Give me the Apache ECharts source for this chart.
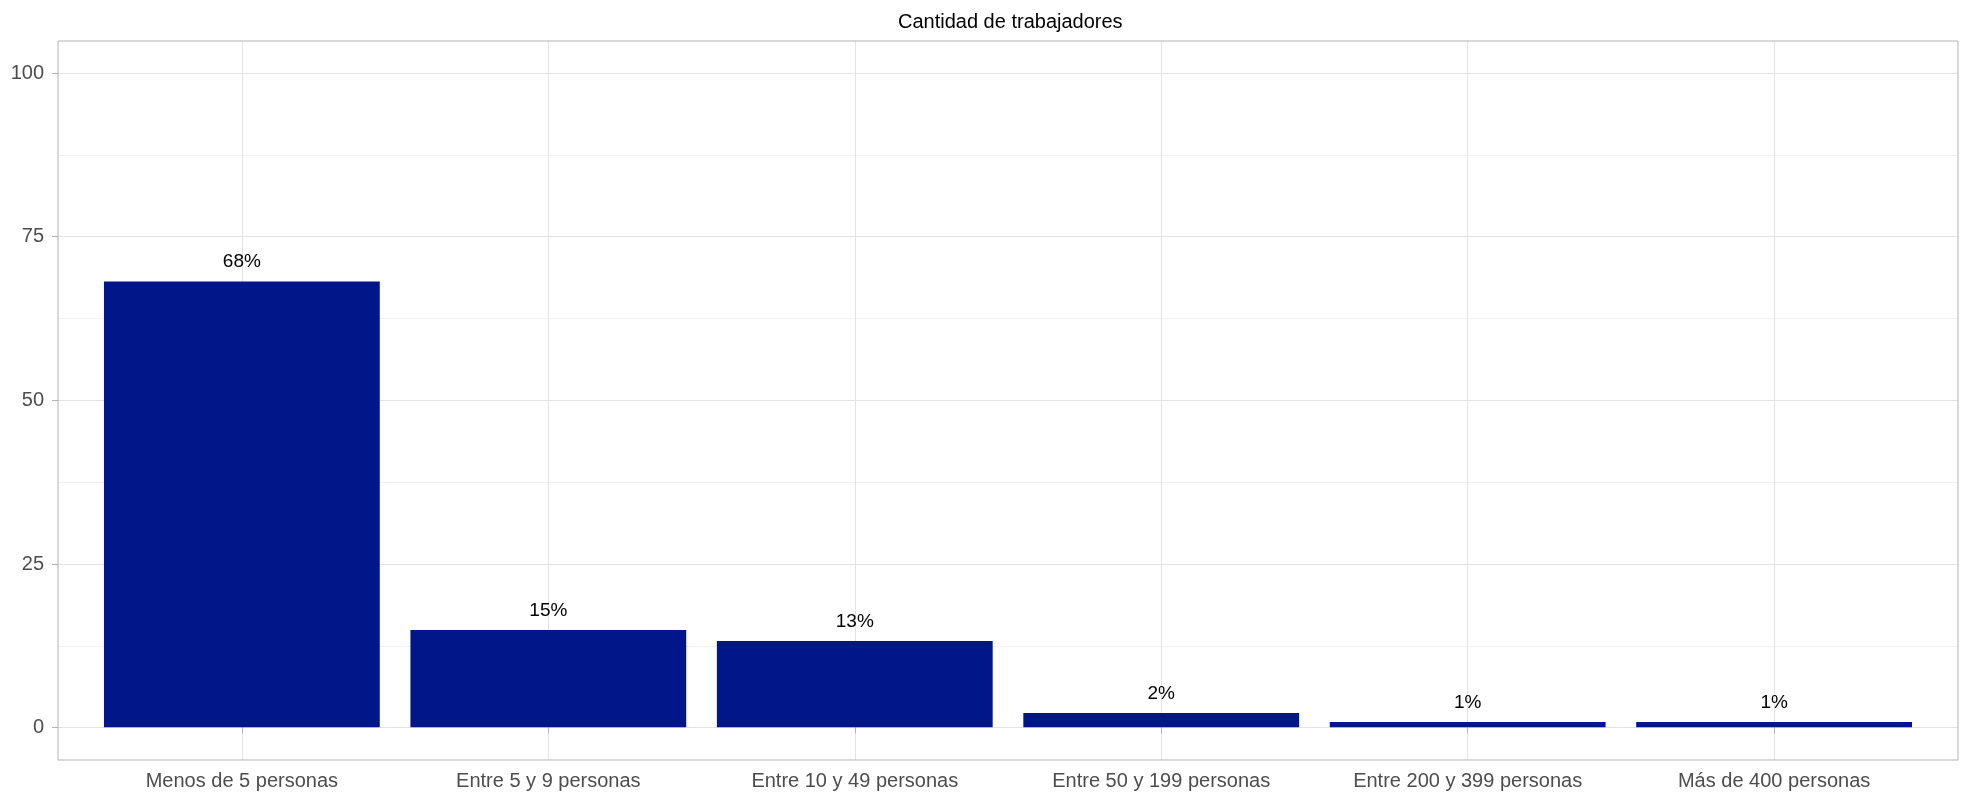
<!DOCTYPE html>
<html>
<head>
<meta charset="utf-8">
<script src="https://cdn.jsdelivr.net/npm/echarts@6/dist/echarts.min.js"></script>
<style>
html,body{margin:0;padding:0;background:#fff;}
#chart{width:1968px;height:794px;}
</style>
</head>
<body>
<div id="chart"></div>
<script>
const categories = ['Menos de 5 personas','Entre 5 y 9 personas','Entre 10 y 49 personas','Entre 50 y 199 personas','Entre 200 y 399 personas','Más de 400 personas'];
const values = [68.2, 14.9, 13.2, 2.2, 0.8, 0.8];
const valueLabels = ['68%','15%','13%','2%','1%','1%'];
const yTicks = [0, 25, 50, 75, 100];
const titleText = 'Cantidad de trabajadores';

const FONT = 'Liberation Sans, Arial, Helvetica, sans-serif';
const chart = echarts.init(document.getElementById('chart'), null, {renderer:'canvas'});

chart.setOption({
  animation: false,
  backgroundColor: '#ffffff',
  textStyle: {fontFamily: FONT},
  title: {
    text: titleText,
    left: 893, top: 7,
    textStyle: {fontFamily: FONT, fontSize: 20, fontWeight: 'normal', color: '#000'}
  },
  grid: [
    {left: 88.65, right: 40.65, top: 41, bottom: 34},
    {left: 58, right: 10, top: 73, bottom: 66.3},
    {left: 58, right: 10, top: 41, bottom: 34, show: true, borderColor: '#b3b3b3', borderWidth: 1, backgroundColor: 'transparent', z: 5}
  ],
  xAxis: [
    {
      type: 'category', gridIndex: 0, data: categories,
      axisLine: {show: false},
      axisTick: {show: true, alignWithLabel: true, length: 6, lineStyle: {color: '#b3b3b3'}},
      axisLabel: {fontFamily: FONT, fontSize: 20, color: '#4d4d4d', margin: 11, interval: 0},
      splitLine: {show: true, alignWithLabel: true, lineStyle: {color: '#e3e3e3', width: 1}}
    },
    {type: 'category', gridIndex: 1, data: categories, show: false},
    {type: 'value', gridIndex: 2, show: false, min: 0, max: 1}
  ],
  yAxis: [
    {type: 'value', gridIndex: 0, min: -5, max: 105, show: false, splitLine: {show: false}},
    {
      type: 'value', gridIndex: 1, min: 0, max: 100, interval: 25,
      axisLine: {show: false},
      axisTick: {show: true, length: 6, lineStyle: {color: '#b3b3b3'}},
      axisLabel: {fontFamily: FONT, fontSize: 20, color: '#4d4d4d', margin: 14,
        customValues: yTicks},
      splitLine: {show: true, lineStyle: {color: '#e3e3e3', width: 1}},
      minorTick: {show: false, splitNumber: 2},
      minorSplitLine: {show: true, lineStyle: {color: '#f1f1f1', width: 1}}
    },
    {type: 'value', gridIndex: 2, show: false, min: 0, max: 1}
  ],
  series: [
    {
      type: 'bar', xAxisIndex: 0, yAxisIndex: 0,
      data: values,
      barWidth: '90%',
      z: 3,
      itemStyle: {color: '#001689'},
      label: {
        show: true, position: 'top', distance: 10,
        fontFamily: FONT, fontSize: 19, color: '#000',
        formatter: p => valueLabels[p.dataIndex]
      }
    }
  ]
});
</script>
</body>
</html>
